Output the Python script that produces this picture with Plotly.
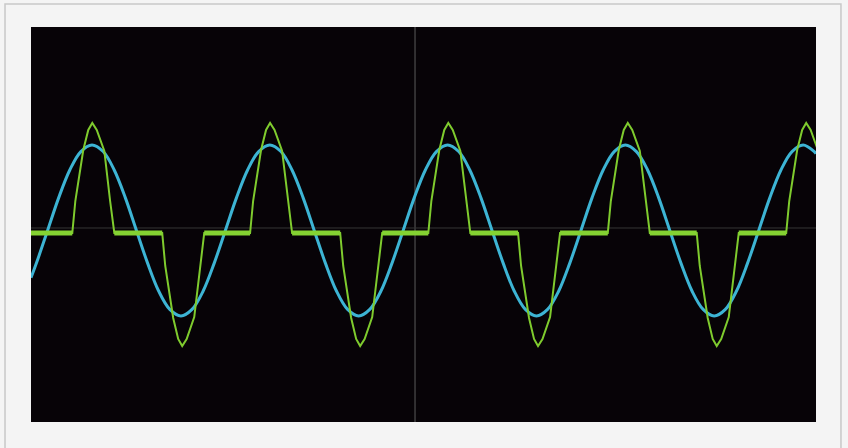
import plotly.graph_objects as go

# ---- data ----
# time axis in ms (screen spans 0 .. 88 ms)
t_blue = [0.0, 0.61, 1.86, 3.10, 4.35, 5.59,
          6.84, 8.09, 9.33, 10.58, 11.82, 13.07, 14.31, 15.56,
          16.81, 18.05, 19.30, 20.54, 21.79, 23.03, 24.28, 25.52,
          26.77, 28.02, 29.26, 30.51, 31.75, 33.00, 34.24, 35.49,
          36.73, 37.98, 39.23, 40.47, 41.72, 42.96, 44.21, 45.45,
          46.70, 47.95, 49.19, 50.44, 51.68, 52.93, 54.17, 55.42,
          56.66, 57.91, 59.16, 60.40, 61.65, 62.89, 64.14, 65.38,
          66.63, 67.87, 69.12, 70.37, 71.61, 72.86, 74.10, 75.35,
          76.59, 77.84, 79.09, 80.33, 81.58, 82.82, 84.07, 85.31,
          86.56, 87.80, 88.0]
# voltage (V)
v_blue = [-180, -124, 0, 124, 230, 300,
          325, 300, 230, 124, 0, -124, -230, -300,
          -325, -300, -230, -124, 0, 124, 230, 300,
          325, 300, 230, 124, 0, -124, -230, -300,
          -325, -300, -230, -124, 0, 124, 230, 300,
          325, 300, 230, 124, 0, -124, -230, -300,
          -325, -300, -230, -124, 0, 124, 230, 300,
          325, 300, 230, 124, 0, -124, -230, -300,
          -325, -300, -230, -124, 0, 124, 230, 300,
          325, 300, 292]

# current (A)
t_green = [0.0, 4.63, 4.97, 5.86, 6.42, 6.87, 7.37, 8.22, 8.87, 9.34,
           14.71, 15.05, 15.94, 16.50, 16.95, 17.45, 18.30, 18.95, 19.42,
           24.56, 24.90, 25.79, 26.35, 26.80, 27.30, 28.15, 28.80, 29.27,
           34.66, 35.00, 35.89, 36.45, 36.90, 37.40, 38.25, 38.90, 39.37,
           44.54, 44.88, 45.77, 46.33, 46.78, 47.28, 48.13, 48.78, 49.25,
           54.60, 54.94, 55.83, 56.39, 56.84, 57.34, 58.19, 58.84, 59.31,
           64.66, 65.00, 65.89, 66.45, 66.90, 67.40, 68.25, 68.90, 69.37,
           74.63, 74.97, 75.86, 76.42, 76.87, 77.37, 78.22, 78.87, 79.34,
           84.66, 85.00, 85.89, 86.45, 86.90, 87.40, 88.25, 88.90, 89.37]
i_green = [0.0, 0.0, 3.2, 8.3, 10.3, 11.0, 10.3, 8.2, 3.2, 0.0,
           0.0, -3.3, -8.5, -10.6, -11.3, -10.6, -8.4, -3.3, 0.0,
           0.0, 3.2, 8.3, 10.3, 11.0, 10.3, 8.2, 3.2, 0.0,
           0.0, -3.3, -8.5, -10.6, -11.3, -10.6, -8.4, -3.3, 0.0,
           0.0, 3.2, 8.3, 10.3, 11.0, 10.3, 8.2, 3.2, 0.0,
           0.0, -3.3, -8.5, -10.6, -11.3, -10.6, -8.4, -3.3, 0.0,
           0.0, 3.2, 8.3, 10.3, 11.0, 10.3, 8.2, 3.2, 0.0,
           0.0, -3.3, -8.5, -10.6, -11.3, -10.6, -8.4, -3.3, 0.0,
           0.0, 3.2, 8.3, 10.3, 11.0, 10.3, 8.2, 3.2, 0.0]

# zero-current (flat, noisy) intervals of the current trace (ms)
flat_start = [0.0, 9.34, 19.42, 29.27, 39.37, 49.25, 59.31, 69.37, 79.34]
flat_end = [4.63, 14.71, 24.56, 34.66, 44.54, 54.60, 64.66, 74.63, 84.66]

cursor_t = 43.05   # vertical cursor (ms)
cursor_v = 9.5     # horizontal cursor (V)

# ---- figure ----
fig = go.Figure()

fx, fy = [], []
for s, e in zip(flat_start, flat_end):
    fx += [s, e, None]
    fy += [0, 0, None]

fig.add_trace(go.Scatter(x=t_green, y=i_green, mode="lines", yaxis="y2",
                         line=dict(color="#7fcb2e", width=2),
                         hoverinfo="skip", showlegend=False))
fig.add_trace(go.Scatter(x=fx, y=fy, mode="lines", yaxis="y2",
                         line=dict(color="#84d232", width=5),
                         hoverinfo="skip", showlegend=False))
fig.add_trace(go.Scatter(x=t_blue, y=v_blue, mode="lines",
                         line=dict(color="#3db4d4", width=3, shape="spline"),
                         hoverinfo="skip", showlegend=False))

fig.update_layout(
    width=848, height=448,
    margin=dict(l=31, r=32, t=27, b=26),
    paper_bgcolor="#f4f4f4",
    plot_bgcolor="#070307",
    xaxis=dict(range=[0, 88], showgrid=False, zeroline=False,
               showticklabels=False, ticks=""),
    yaxis=dict(range=[-728, 773.5], showgrid=False, zeroline=False,
               showticklabels=False, ticks=""),
    yaxis2=dict(range=[-18.9, 20.6], overlaying="y", showgrid=False,
                zeroline=False, showticklabels=False, ticks=""),
    shapes=[
        dict(type="line", xref="x", yref="paper", x0=cursor_t, x1=cursor_t,
             y0=0, y1=1, line=dict(color="#5c5c5c", width=1), layer="below"),
        dict(type="line", xref="paper", yref="y", x0=0, x1=1,
             y0=cursor_v, y1=cursor_v, line=dict(color="#363636", width=1),
             layer="below"),
        dict(type="rect", xref="paper", yref="paper",
             x0=-0.0331, x1=1.0318, y0=-0.08, y1=1.0582,
             line=dict(color="#c8c8c8", width=1.5)),
    ],
)

fig.write_html("out.html",
               config={"displayModeBar": False},
               post_script="document.body.style.margin='0';"
                           "document.body.style.background='#f4f4f4';")
